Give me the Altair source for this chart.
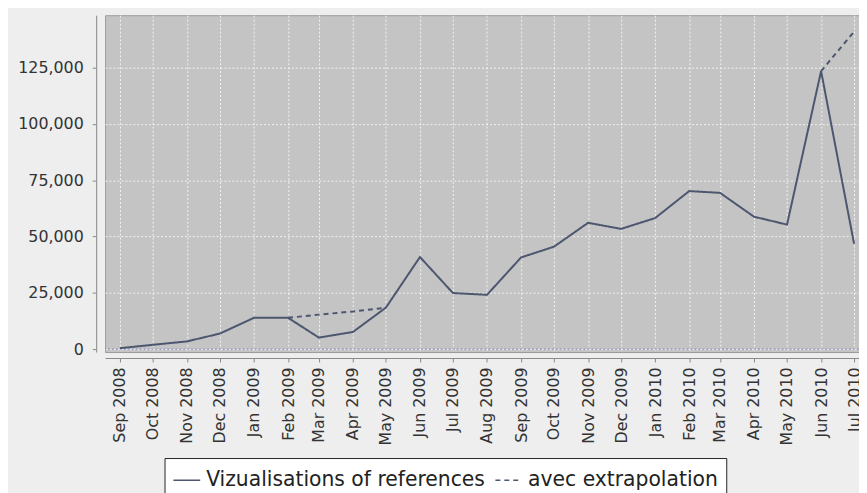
import altair as alt
import pandas as pd

# ---- data ----
months = [
    "2008-09-01", "2008-10-01", "2008-11-01", "2008-12-01",
    "2009-01-01", "2009-02-01", "2009-03-01", "2009-04-01",
    "2009-05-01", "2009-06-01", "2009-07-01", "2009-08-01",
    "2009-09-01", "2009-10-01", "2009-11-01", "2009-12-01",
    "2010-01-01", "2010-02-01", "2010-03-01", "2010-04-01",
    "2010-05-01", "2010-06-01", "2010-07-01",
]
views = [
    400, 1900, 3400, 6900,
    13900, 13900, 5100, 7600,
    18400, 40900, 24900, 24100,
    40700, 45500, 56100, 53400,
    58200, 70200, 69400, 58800,
    55300, 123500, 46800,
]
extra_a_months = ["2009-02-01", "2009-03-01", "2009-04-01", "2009-05-01"]
extra_a_values = [13900, 15300, 16700, 18400]
extra_b_months = ["2010-06-01", "2010-07-01"]
extra_b_values = [123500, 141000]
y_ticks = [0, 25000, 50000, 75000, 100000, 125000]
baseline = [0]

S1 = "Vizualisations of references"
S2 = "avec extrapolation"

rows = [dict(date=m, value=v, series=S1, seg="main") for m, v in zip(months, views)]
rows += [dict(date=m, value=v, series=S2, seg="a") for m, v in zip(extra_a_months, extra_a_values)]
rows += [dict(date=m, value=v, series=S2, seg="b") for m, v in zip(extra_b_months, extra_b_values)]
df = pd.DataFrame(rows)

LINE = "#4c566e"
FONT = "DejaVu Sans"

x_enc = alt.X(
    "date:T",
    scale=alt.Scale(
        type="utc",
        domain=[
            alt.DateTime(year=2008, month=8, date=18, hours=12, utc=True),
            alt.DateTime(year=2010, month=7, date=5, hours=12, utc=True),
        ],
    ),
    axis=alt.Axis(
        title=None,
        format="%b %Y",
        tickCount=alt.TimeIntervalStep(interval="month", step=1),
        labelAngle=270,
        labelFont=FONT,
        labelFontSize=16,
        labelColor="#333333",
        labelOverlap=False,
        labelFlush=False,
        tickSize=4,
        labelPadding=5,
        offset=6,
        domainColor="#888888",
        tickColor="#888888",
        grid=True,
        gridColor="white",
        gridDash=[2, 2],
        gridOpacity=0.8,
    ),
)
y_scale = alt.Scale(domain=[-1320, 148330], nice=False, zero=False)
y_enc = alt.Y(
    "value:Q",
    scale=y_scale,
    axis=alt.Axis(
        title=None,
        values=y_ticks,
        format=",d",
        labelFont=FONT,
        labelFontSize=16,
        labelColor="#333333",
        tickSize=4,
        labelPadding=9,
        offset=9,
        domainColor="#888888",
        tickColor="#888888",
        grid=True,
        gridColor="white",
        gridDash=[2, 2],
        gridOpacity=0.8,
    ),
)

zero_line = (
    alt.Chart(pd.DataFrame({"v": baseline}))
    .mark_rule(color="#8a8ac8", strokeDash=[2, 2], strokeWidth=1)
    .encode(y=alt.Y("v:Q", scale=y_scale))
)

lines = (
    alt.Chart(df)
    .mark_line(color=LINE, strokeWidth=2, clip=True)
    .encode(
        x=x_enc,
        y=y_enc,
        detail="seg:N",
        strokeDash=alt.StrokeDash(
            "series:N",
            scale=alt.Scale(domain=[S1, S2], range=[[1, 0], [5, 4]]),
            legend=alt.Legend(
                title=None,
                orient="none",
                legendX=60,
                legendY=447,
                direction="horizontal",
                symbolType="stroke",
                symbolSize=729,
                symbolStrokeWidth=1.5,
                symbolStrokeColor=LINE,
                labelFont=FONT,
                labelFontSize=20.5,
                labelColor="#222222",
                labelLimit=500,
                labelOffset=5,
                columnPadding=7,
                padding=8,
                strokeColor="#222222",
                fillColor="white",
            ),
        ),
    )
)

chart = (
    alt.layer(zero_line, lines)
    .properties(
        width=761,
        height=340,
        autosize=alt.AutoSizeParams(type="none"),
        padding={"left": 98, "top": 5, "right": 0, "bottom": 140},
        background="#eeeeee",
    )
    .configure_view(fill="#c4c4c4", stroke="#9a9a9a", strokeWidth=1)
)

chart.save("out.html", embed_options={"renderer": "svg", "actions": False})
